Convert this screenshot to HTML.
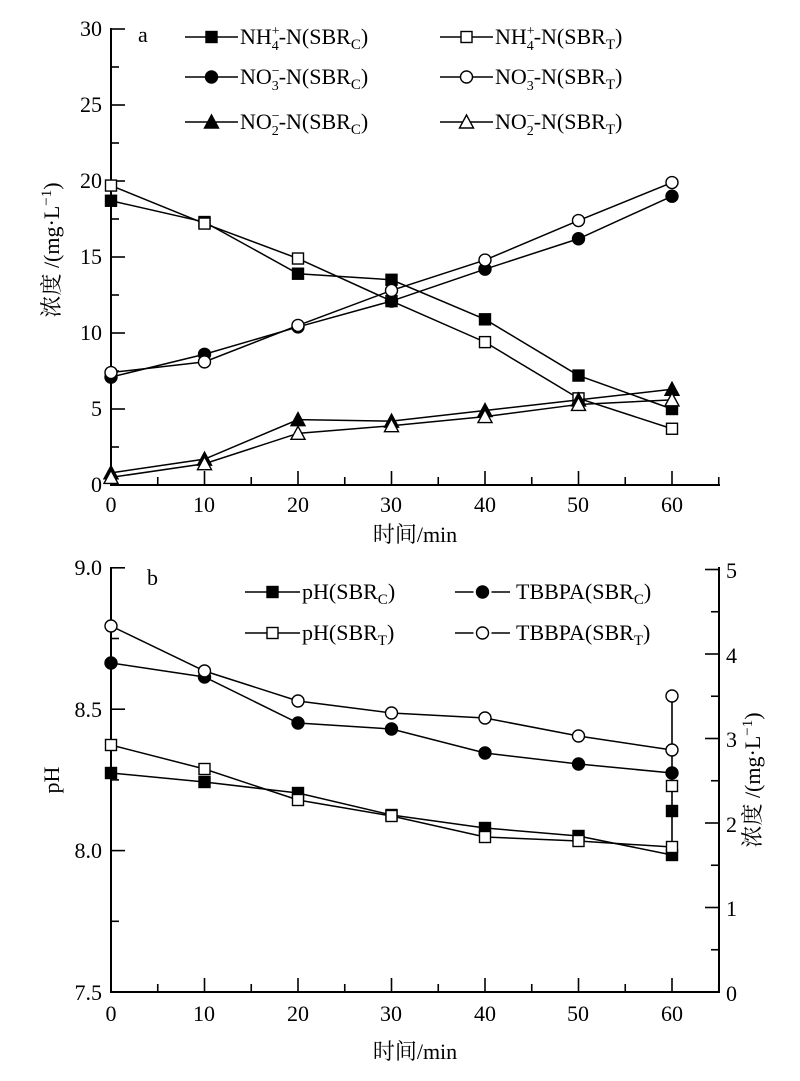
<!DOCTYPE html>
<html><head><meta charset="utf-8"><style>
body{margin:0;background:#fff}
svg{display:block;font-family:"Liberation Serif","Noto Serif CJK SC",serif}
</style></head><body>
<svg id="s" width="800" height="1081" viewBox="0 0 800 1081" xmlns="http://www.w3.org/2000/svg">
<rect width="800" height="1081" fill="#fff"/>
<g stroke="#000" stroke-width="2" fill="none">
<path d="M111 28V485H720"/>
<path d="M111 567V992H719V567"/>
</g>
<g id="ticks" stroke="#000" stroke-width="1.6"></g>
<g font-size="22" text-anchor="end">
<text x="102" y="36">30</text><text x="102" y="112">25</text><text x="102" y="188">20</text>
<text x="102" y="264">15</text><text x="102" y="340">10</text><text x="102" y="416">5</text><text x="102" y="492">0</text>
<text x="102" y="575">9.0</text><text x="102" y="717">8.5</text><text x="102" y="858">8.0</text><text x="102" y="1000">7.5</text>
</g>
<g font-size="22" text-anchor="start">
<text x="726" y="578">5</text><text x="726" y="663">4</text><text x="726" y="747">3</text><text x="726" y="832">2</text><text x="726" y="916">1</text><text x="726" y="1001">0</text>
</g>
<g font-size="22" text-anchor="middle">
<text x="111" y="512">0</text><text x="204" y="512">10</text><text x="298" y="512">20</text><text x="391" y="512">30</text><text x="485" y="512">40</text><text x="578" y="512">50</text><text x="672" y="512">60</text>
<text x="111" y="1021">0</text><text x="204" y="1021">10</text><text x="298" y="1021">20</text><text x="391" y="1021">30</text><text x="485" y="1021">40</text><text x="578" y="1021">50</text><text x="672" y="1021">60</text>
<text x="415" y="542">时间/min</text>
<text x="415" y="1059">时间/min</text>
</g>
<text font-size="22" transform="translate(59,250) rotate(-90)" text-anchor="middle">浓度 /(mg·L<tspan font-size="15" dy="-8">−1</tspan><tspan dy="8">)</tspan></text>
<text font-size="22" transform="translate(59,780) rotate(-90)" text-anchor="middle">pH</text>
<text font-size="22" transform="translate(760,780) rotate(-90)" text-anchor="middle">浓度 /(mg·L<tspan font-size="15" dy="-8">−1</tspan><tspan dy="8">)</tspan></text>
<text x="138" y="42" font-size="22">a</text>
<text x="147" y="585" font-size="22">b</text>
<g font-size="22">
<text x="240" y="44">NH<tspan font-size="14" dy="-9">+</tspan><tspan font-size="14" dx="-8" dy="15">4</tspan><tspan dy="-6">-N(SBR</tspan><tspan font-size="15" dy="5">C</tspan><tspan dy="-5">)</tspan></text>
<text x="495" y="44">NH<tspan font-size="14" dy="-9">+</tspan><tspan font-size="14" dx="-8" dy="15">4</tspan><tspan dy="-6">-N(SBR</tspan><tspan font-size="15" dy="5">T</tspan><tspan dy="-5">)</tspan></text>
<text x="240" y="84">NO<tspan font-size="14" dy="-9">−</tspan><tspan font-size="14" dx="-8" dy="15">3</tspan><tspan dy="-6">-N(SBR</tspan><tspan font-size="15" dy="5">C</tspan><tspan dy="-5">)</tspan></text>
<text x="495" y="84">NO<tspan font-size="14" dy="-9">−</tspan><tspan font-size="14" dx="-8" dy="15">3</tspan><tspan dy="-6">-N(SBR</tspan><tspan font-size="15" dy="5">T</tspan><tspan dy="-5">)</tspan></text>
<text x="240" y="129">NO<tspan font-size="14" dy="-9">−</tspan><tspan font-size="14" dx="-8" dy="15">2</tspan><tspan dy="-6">-N(SBR</tspan><tspan font-size="15" dy="5">C</tspan><tspan dy="-5">)</tspan></text>
<text x="495" y="129">NO<tspan font-size="14" dy="-9">−</tspan><tspan font-size="14" dx="-8" dy="15">2</tspan><tspan dy="-6">-N(SBR</tspan><tspan font-size="15" dy="5">T</tspan><tspan dy="-5">)</tspan></text>
<text x="302" y="599">pH(SBR<tspan font-size="15" dy="5">C</tspan><tspan dy="-5">)</tspan></text>
<text x="302" y="640">pH(SBR<tspan font-size="15" dy="5">T</tspan><tspan dy="-5">)</tspan></text>
<text x="516" y="599">TBBPA(SBR<tspan font-size="15" dy="5">C</tspan><tspan dy="-5">)</tspan></text>
<text x="516" y="640">TBBPA(SBR<tspan font-size="15" dy="5">T</tspan><tspan dy="-5">)</tspan></text>
</g>
<g id="data"></g>
</svg>
<script>
var NS="http://www.w3.org/2000/svg",d=document.getElementById("data"),tk=document.getElementById("ticks");
function el(n,a,p){var e=document.createElementNS(NS,n);for(var k in a)e.setAttribute(k,a[k]);(p||d).appendChild(e);return e;}
function ln(x1,y1,x2,y2,p){el("line",{x1:x1,y1:y1,x2:x2,y2:y2,stroke:"#000","stroke-width":1.6},p);}
for(var i=0;i<=13;i++){var x=111+i*46.75,L=i%2?8:14;ln(x,485,x,485-L,tk);ln(x,992,x,992-L,tk);}
for(var i=1;i<=12;i++){var y=485-i*38;ln(111,y,111+(i%2?8:14),y,tk);}
for(var i=1;i<=6;i++){var y=992-i*70.7;ln(111,y,111+(i%2?8:14),y,tk);}
for(var i=1;i<=10;i++){var y=992-i*42.25;ln(719,y,719-(i%2?8:14),y,tk);}
function mk(t,x,y){
 var f=(t[1]=="f")?"#000":"#fff";
 if(t[0]=="s")el("rect",{x:x-5.5,y:y-5.5,width:11,height:11,fill:f,stroke:"#000","stroke-width":1.4});
 else if(t[0]=="c")el("circle",{cx:x,cy:y,r:6,fill:f,stroke:"#000","stroke-width":1.4});
 else el("polygon",{points:(x)+","+(y-7)+" "+(x-7)+","+(y+6)+" "+(x+7)+","+(y+6),fill:f,stroke:"#000","stroke-width":1.4});
}
var X=[0,10,20,30,40,50,60];
function px(t){return 111+t*9.35;}
function ser(t,ys){var pts=ys.map(function(y,i){return px(X[i])+","+y;}).join(" ");
 el("polyline",{points:pts,fill:"none",stroke:"#000","stroke-width":1.5});ys.forEach(function(y,i){mk(t,px(X[i]),y);});}
function ya(v){return 485-v*15.2;}
ser("sf",[18.7,17.3,13.9,13.5,10.9,7.2,5.0].map(ya));
ser("so",[19.7,17.2,14.9,12.1,9.4,5.7,3.7].map(ya));
ser("cf",[7.1,8.6,10.4,12.1,14.2,16.2,19.0].map(ya));
ser("co",[7.4,8.1,10.5,12.8,14.8,17.4,19.9].map(ya));
ser("tf",[0.8,1.7,4.3,4.2,4.9,5.6,6.3].map(ya));
ser("to",[0.5,1.4,3.4,3.9,4.5,5.3,5.6].map(ya));
ln(672,696,672,855);
ser("sf",[773,782,793,815,828,836,855]);
ser("so",[745,769,800,816,837,841,847]);
ser("cf",[663,677,723,729,753,764,773]);
ser("co",[626,671,701,713,718,736,750]);
mk("sf",672,811);mk("so",672,786);mk("co",672,696);
function leg(t,x1,x2,y,gap){var m=(x1+x2)/2;
 if(gap){ln(x1,y,m-9,y);ln(m+9,y,x2,y);}else ln(x1,y,x2,y);mk(t,m,y);}
leg("sf",185,238,37);leg("so",440,493,37);
leg("cf",185,238,77);leg("co",440,493,77);
leg("tf",185,238,122);leg("to",440,493,122);
leg("sf",245,300,592);leg("so",245,300,633);
leg("cf",455,510,592,1);leg("co",455,510,633,1);
</script>
</body></html>
